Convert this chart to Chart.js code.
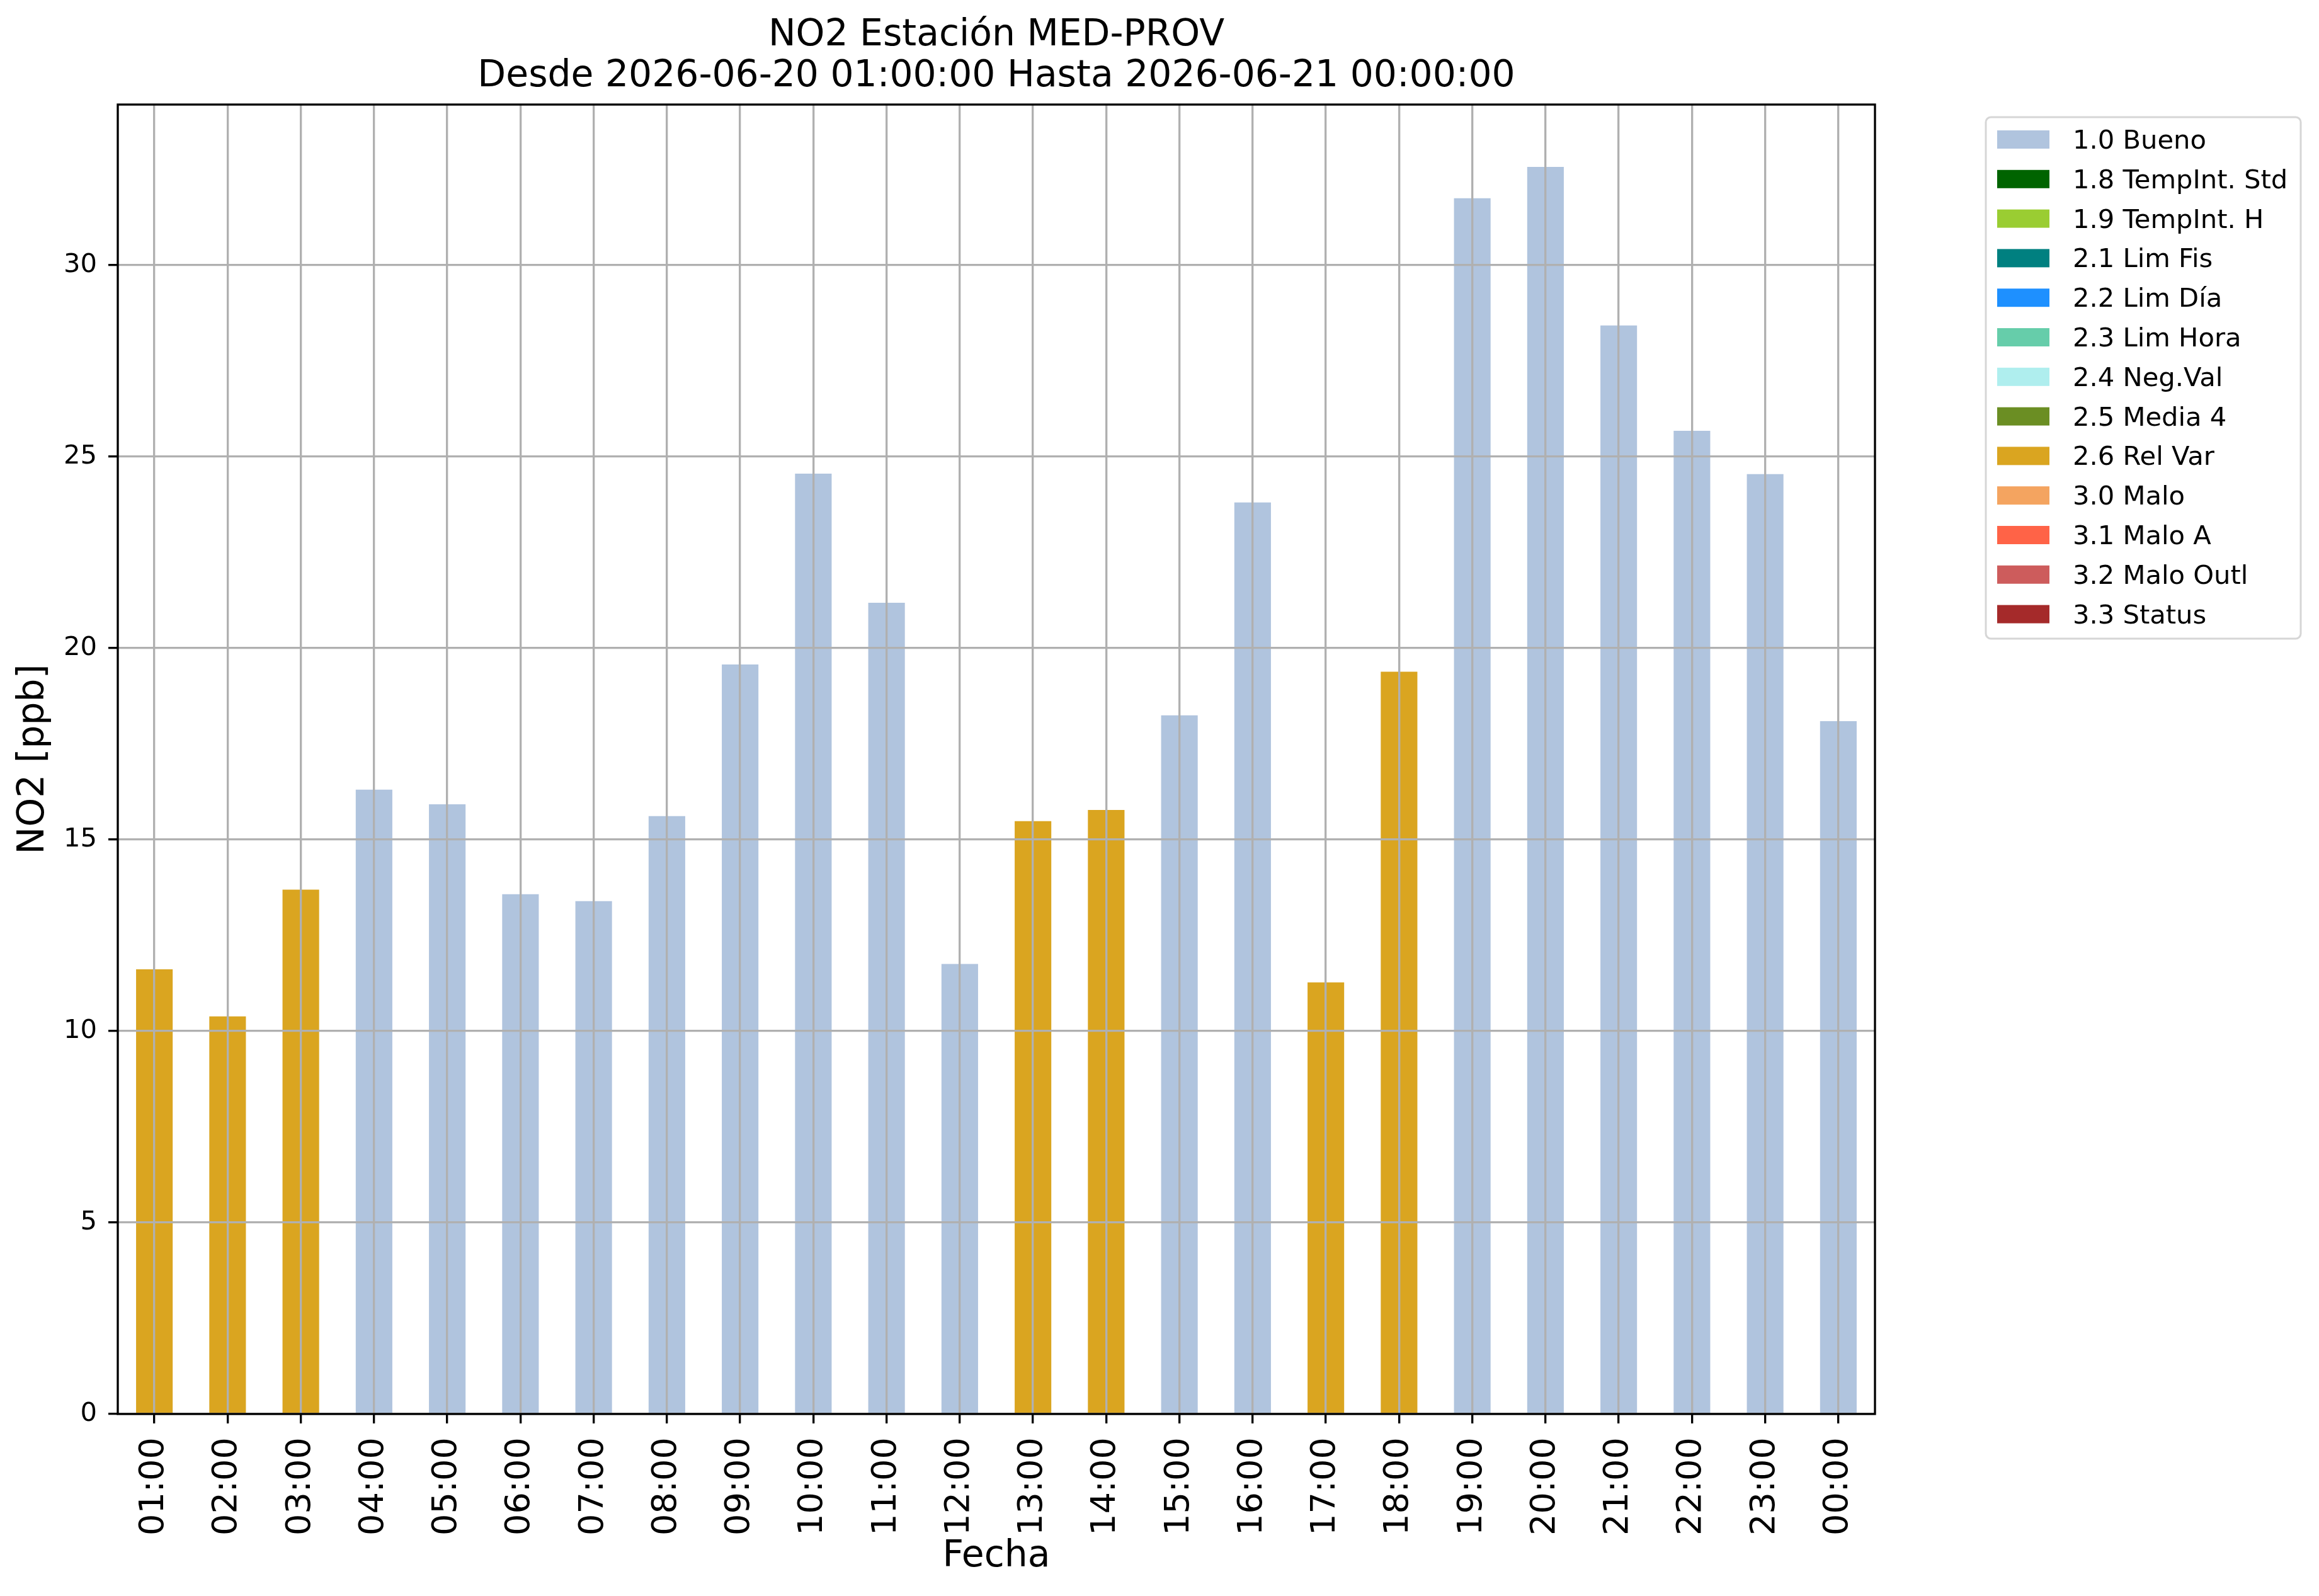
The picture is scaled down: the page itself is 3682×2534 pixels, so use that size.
<!DOCTYPE html>
<html lang="es">
<head>
<meta charset="utf-8">
<title>NO2 Estación MED-PROV</title>
<script src="https://cdn.jsdelivr.net/npm/chart.js@4.4.1/dist/chart.umd.min.js"></script>
<style>
  html, body { margin: 0; padding: 0; background: #fff; }
  #wrap { position: relative; width: 3682px; height: 2534px; }
</style>
</head>
<body>
<div id="wrap"><canvas id="no2Chart"></canvas></div>
<script>
// Horas del periodo (eje X)
const horas = ['01:00', '02:00', '03:00', '04:00', '05:00', '06:00', '07:00', '08:00',
  '09:00', '10:00', '11:00', '12:00', '13:00', '14:00', '15:00', '16:00',
  '17:00', '18:00', '19:00', '20:00', '21:00', '22:00', '23:00', '00:00'];

// NO2 [ppb] por hora
const valoresNO2 = [11.61, 10.38, 13.69, 16.30, 15.92, 13.57, 13.39, 15.61,
  19.57, 24.55, 21.18, 11.75, 15.48, 15.77, 18.24, 23.80,
  11.27, 19.38, 31.74, 32.56, 28.42, 25.67, 24.54, 18.09];

// Código de validación de cada hora
const codigoHora = ['2.6', '2.6', '2.6', '1.0', '1.0', '1.0', '1.0', '1.0',
  '1.0', '1.0', '1.0', '1.0', '2.6', '2.6', '1.0', '1.0',
  '2.6', '2.6', '1.0', '1.0', '1.0', '1.0', '1.0', '1.0'];

// Leyenda: códigos, nombres y colores
const codigos = ['1.0', '1.8', '1.9', '2.1', '2.2', '2.3', '2.4', '2.5', '2.6', '3.0', '3.1', '3.2', '3.3'];
const nombres = ['Bueno', 'TempInt. Std', 'TempInt. H', 'Lim Fis', 'Lim Día', 'Lim Hora',
  'Neg.Val', 'Media 4', 'Rel Var', 'Malo', 'Malo A', 'Malo Outl', 'Status'];
const colores = ['#B0C4DE', '#006400', '#9ACD32', '#008080', '#1E90FF', '#66CDAA',
  '#AFEEEE', '#6B8E23', '#DAA520', '#F4A460', '#FF6347', '#CD5C5C', '#A52A2A'];

// Marcas del eje Y
const ticksY = [0, 5, 10, 15, 20, 25, 30];

const FUENTE = 'DejaVu Sans';
const PT = 300 / 72; // figura original a 300 dpi

Chart.defaults.font.family = FUENTE;
Chart.defaults.color = '#000';

// un dataset por código, solo con las horas que lo tienen
const datasets = codigos.map((cod, k) => ({
  label: cod + ' ' + nombres[k],
  backgroundColor: colores[k],
  borderWidth: 0,
  barPercentage: 0.5,
  categoryPercentage: 1.0,
  data: valoresNO2.map((v, i) => (codigoHora[i] === cod ? v : null))
}));

// Marco negro alrededor del área de datos
const marcoEjes = {
  id: 'marcoEjes',
  afterDraw(chart) {
    const { ctx, chartArea: a } = chart;
    ctx.save();
    ctx.strokeStyle = '#000';
    ctx.lineWidth = 0.8 * PT;
    ctx.strokeRect(a.left, a.top, a.right - a.left, a.bottom - a.top);
    ctx.restore();
  }
};

// Leyenda estilo matplotlib, fuera del área, arriba a la derecha
const leyendaCaja = {
  id: 'leyendaCaja',
  afterDraw(chart) {
    const { ctx, chartArea: a } = chart;
    const x = a.right + 176, y = a.top + 20;
    const w = 500, h = 828, r = 8;
    const fila = 62.8;

    ctx.save();
    ctx.beginPath();
    ctx.moveTo(x + r, y);
    ctx.lineTo(x + w - r, y);
    ctx.arcTo(x + w, y, x + w, y + r, r);
    ctx.lineTo(x + w, y + h - r);
    ctx.arcTo(x + w, y + h, x + w - r, y + h, r);
    ctx.lineTo(x + r, y + h);
    ctx.arcTo(x, y + h, x, y + h - r, r);
    ctx.lineTo(x, y + r);
    ctx.arcTo(x, y, x + r, y, r);
    ctx.closePath();
    ctx.fillStyle = 'rgba(255,255,255,0.8)';
    ctx.fill();
    ctx.strokeStyle = '#d6d6d6';
    ctx.lineWidth = 3;
    ctx.stroke();

    ctx.font = (10 * PT) + 'px "' + FUENTE + '"';
    ctx.textBaseline = 'alphabetic';
    ctx.textAlign = 'left';
    chart.data.datasets.forEach((ds, i) => {
      const top = y + 21 + i * fila;
      ctx.fillStyle = ds.backgroundColor;
      ctx.fillRect(x + 18, top, 83, 29);
      ctx.fillStyle = '#000';
      ctx.fillText(ds.label, x + 138, top + 29);
    });
    ctx.restore();
  }
};

const gridComun = {
  color: '#b0b0b0',
  lineWidth: 0.8 * PT,
  z: 1,
  tickColor: '#000',
  tickLength: 15,
  tickWidth: 0.8 * PT
};

const ctx = document.getElementById('no2Chart');
new Chart(ctx, {
  type: 'bar',
  data: { labels: horas, datasets: datasets },
  options: {
    responsive: true,
    maintainAspectRatio: false,
    animation: false,
    devicePixelRatio: 1,
    layout: { padding: { left: 0, top: 0, right: 705, bottom: 0 } },
    plugins: {
      legend: { display: false },
      tooltip: { enabled: false },
      title: {
        display: true,
        fullSize: false,
        text: ['NO2 Estación MED-PROV', 'Desde 2026-06-20 01:00:00 Hasta 2026-06-21 00:00:00'],
        color: '#000',
        font: { family: FUENTE, size: 14 * PT, weight: 'normal', lineHeight: '65px' },
        padding: { top: 24.5, bottom: 11.5 }
      }
    },
    scales: {
      x: {
        stacked: true,
        offset: true,
        grid: Object.assign({ offset: false }, gridComun),
        border: { display: false },
        ticks: {
          autoSkip: false,
          minRotation: 90,
          maxRotation: 90,
          padding: 22,
          color: '#000',
          font: { family: FUENTE, size: 13 * PT }
        },
        title: {
          display: true,
          text: 'Fecha',
          color: '#000',
          font: { family: FUENTE, size: 14 * PT },
          padding: { top: 0, bottom: 27 }
        },
        afterFit(scale) { scale.height = 289; }
      },
      y: {
        stacked: true,
        min: 0,
        max: Math.max(...valoresNO2) * 1.05,
        grid: gridComun,
        border: { display: false },
        afterBuildTicks(scale) { scale.ticks = ticksY.map(v => ({ value: v })); },
        ticks: {
          padding: 18,
          color: '#000',
          font: { family: FUENTE, size: 10 * PT }
        },
        title: {
          display: true,
          text: 'NO2 [ppb]',
          color: '#000',
          font: { family: FUENTE, size: 14 * PT },
          padding: { top: 19, bottom: 0 }
        },
        afterFit(scale) { scale.width = 187; }
      }
    }
  },
  plugins: [marcoEjes, leyendaCaja]
});
</script>
</body>
</html>
